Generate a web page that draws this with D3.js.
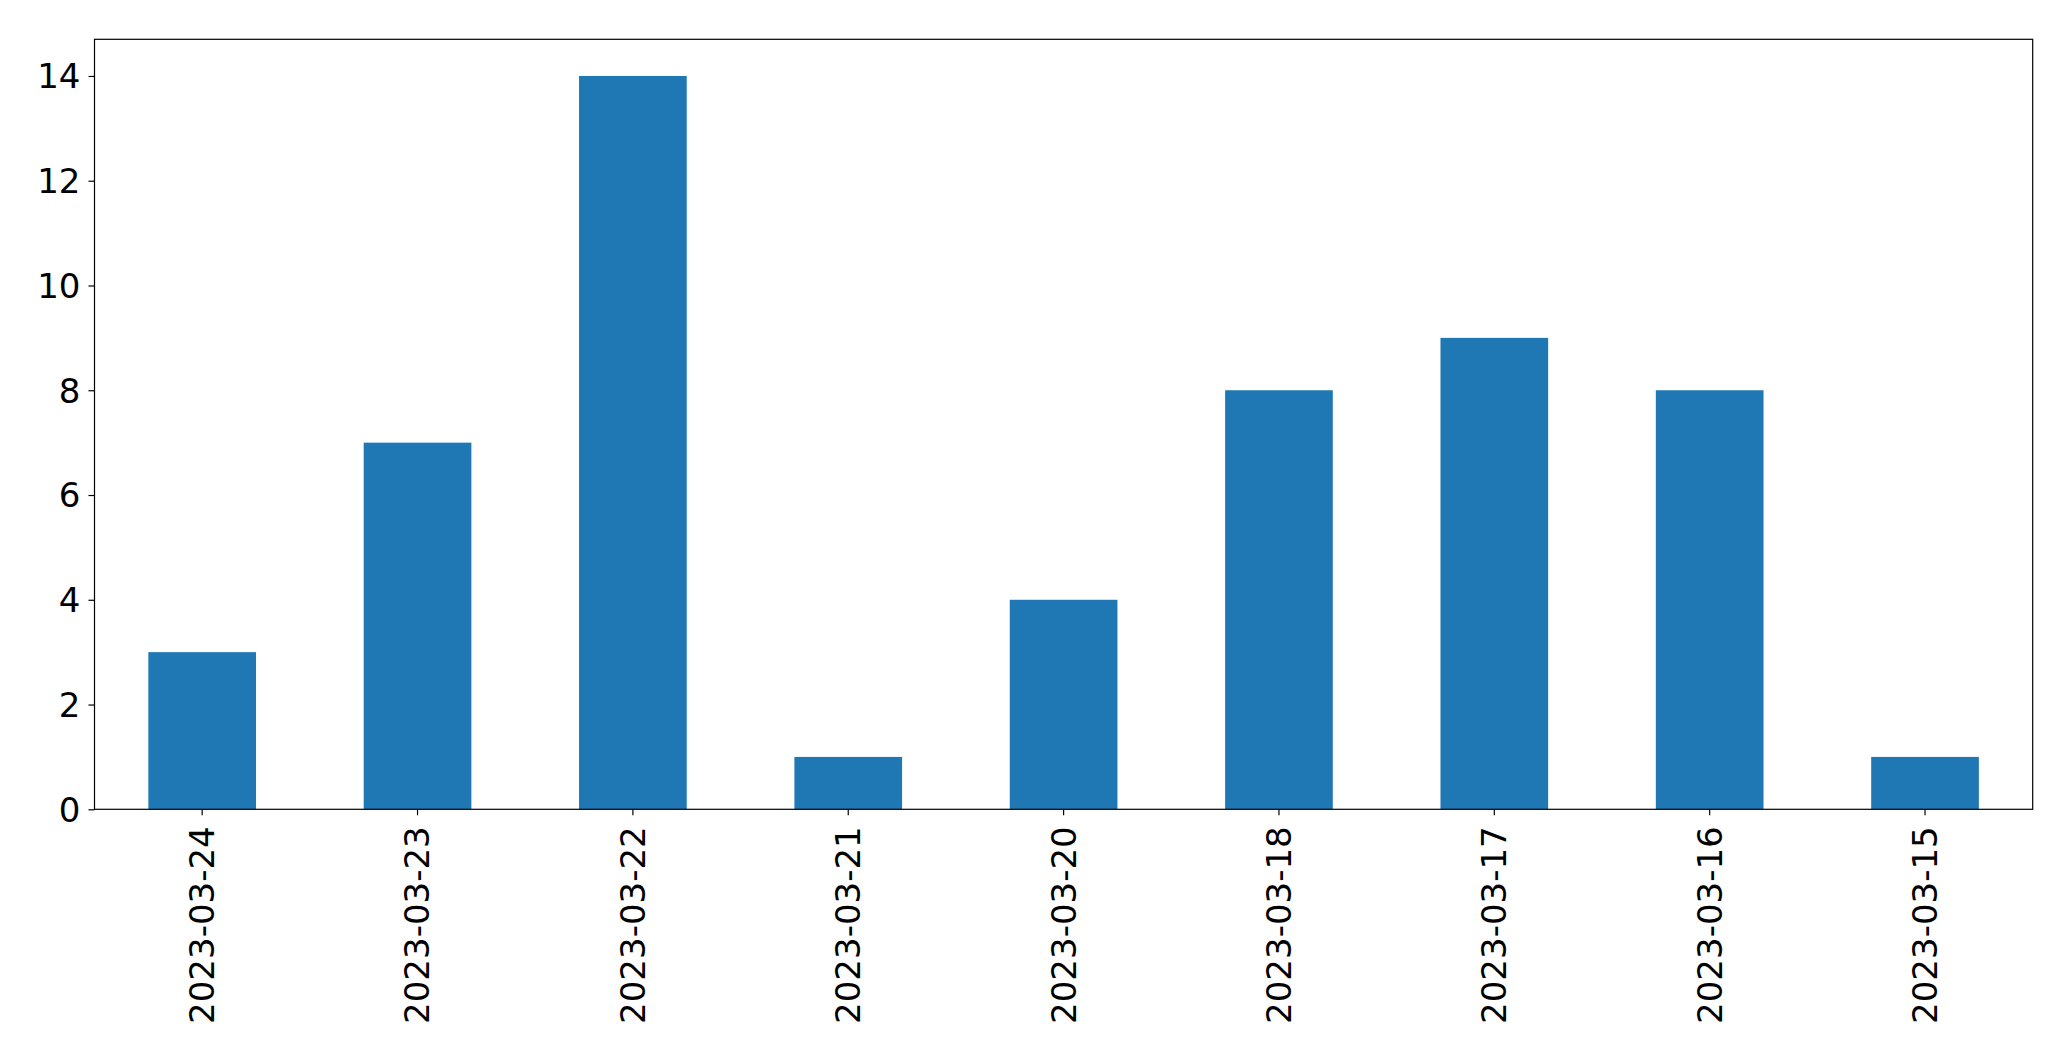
<!DOCTYPE html>
<html><head><meta charset="utf-8">
<script src="https://cdn.jsdelivr.net/npm/d3@7"></script>
<style>body{margin:0;background:#fff;}svg{display:block;}</style>
</head><body>
<script>
const categories = ["2023-03-24","2023-03-23","2023-03-22","2023-03-21","2023-03-20","2023-03-18","2023-03-17","2023-03-16","2023-03-15"];
const values = [3,7,14,1,4,8,9,8,1];
const yTicks = [0,2,4,6,8,10,12,14];

const W = 2071, H = 1061;
const m = {left: 94.5, right: 2032.7, top: 39.3, bottom: 809.3};
const svg = d3.select("body").append("svg").attr("width", W).attr("height", H);

const x = d3.scaleBand().domain(categories).range([m.left, m.right]).paddingInner(0.5).paddingOuter(0.25);
const y = d3.scaleLinear().domain([0, 14.7]).range([m.bottom, m.top]);

svg.append("g").selectAll("rect").data(values).join("rect")
  .attr("x", (d,i) => x(categories[i]))
  .attr("width", x.bandwidth())
  .attr("y", d => y(d))
  .attr("height", d => y(0) - y(d))
  .attr("fill", "#1f77b4");

svg.append("rect").attr("x", m.left).attr("y", m.top)
  .attr("width", m.right - m.left).attr("height", m.bottom - m.top)
  .attr("fill", "none").attr("stroke", "#000").attr("stroke-width", 1.2);

const font = "'DejaVu Sans', sans-serif";
const yAxis = svg.append("g").attr("transform", `translate(${m.left},0)`)
  .call(d3.axisLeft(y).tickValues(yTicks).tickSize(6).tickPadding(8).tickFormat(d3.format("d")));
yAxis.select(".domain").remove();
yAxis.selectAll("line").attr("stroke", "#000").attr("stroke-width", 1.2);
yAxis.selectAll("text").attr("font-family", font).attr("font-size", 34).attr("fill", "#000").attr("dy", "0.35em");

const xAxis = svg.append("g").attr("transform", `translate(0,${m.bottom})`)
  .call(d3.axisBottom(x).tickSize(6).tickPadding(0));
xAxis.select(".domain").remove();
xAxis.selectAll("line").attr("stroke", "#000").attr("stroke-width", 1.2);
xAxis.selectAll("text")
  .attr("font-family", font).attr("font-size", 34).attr("fill", "#000")
  .attr("text-anchor", "end")
  .attr("transform", "translate(0,17) rotate(-90)")
  .attr("x", 0).attr("y", 0).attr("dy", "0.35em");
</script>
</body></html>
